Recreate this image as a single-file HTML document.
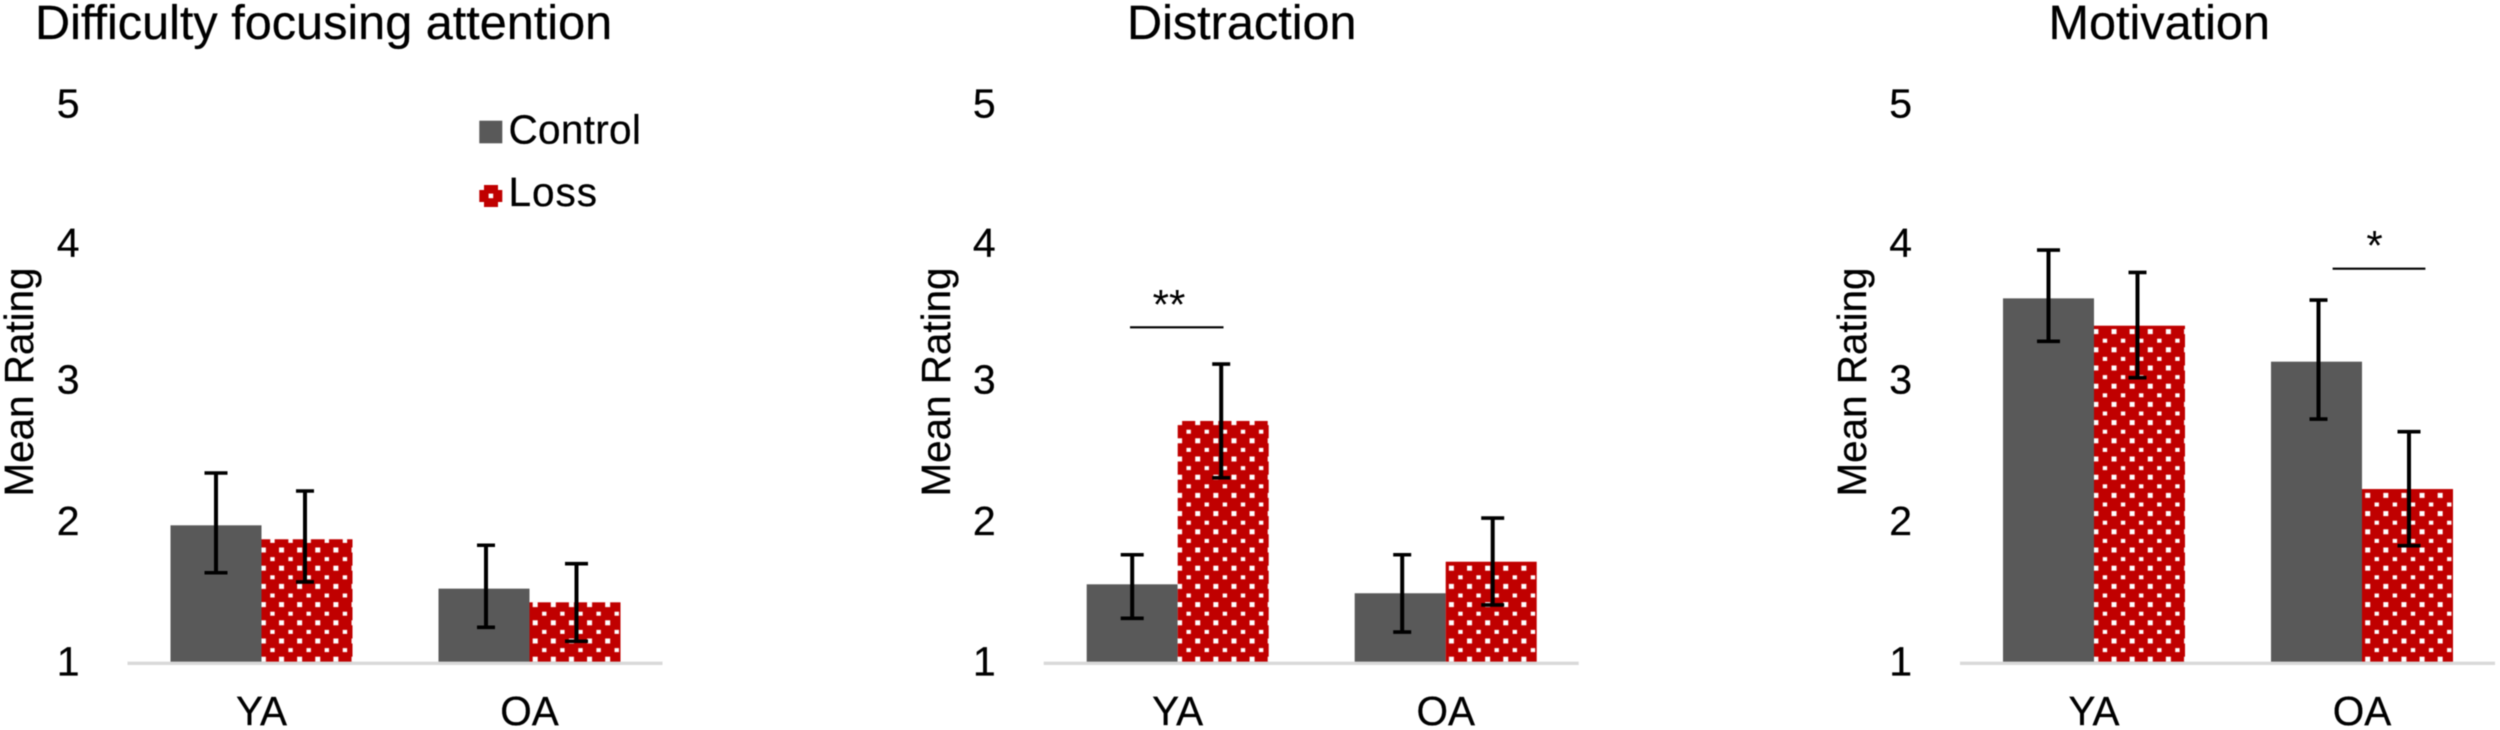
<!DOCTYPE html>
<html lang="en">
<head>
<meta charset="utf-8">
<title>Mean ratings by age group and condition</title>
<style>
  html, body { margin: 0; padding: 0; background: #fff; }
  svg { display: block; filter: blur(0.4px); }
  text { font-family: "Liberation Sans", Arial, sans-serif; fill: #000; stroke: #000; stroke-width: 0.25px; }
  .title { font-size: 48.6px; }
  .axis-title { font-size: 40.4px; text-anchor: middle; }
  .tick { font-size: 41px; text-anchor: end; }
  .cat { font-size: 40.5px; text-anchor: middle; }
  .legend-text { font-size: 40.5px; }
  .star { font-size: 42px; text-anchor: middle; stroke-width: 0; }
</style>
</head>
<body>
<svg id="figure" xmlns="http://www.w3.org/2000/svg" width="2500" height="730" viewBox="0 0 2500 730">
  <rect x="0" y="0" width="2500" height="730" fill="#ffffff"/>
  <defs id="defs"></defs>

  <g id="panel-attention">
    <text class="title" x="35" y="39">Difficulty focusing attention</text>
    <text class="axis-title" transform="translate(33 382) rotate(-90)">Mean Rating</text>
  </g>

  <g id="panel-distraction">
    <text class="title" x="1127" y="39">Distraction</text>
    <text class="axis-title" transform="translate(950 382) rotate(-90)">Mean Rating</text>
    <line x1="1130" y1="327.3" x2="1223.5" y2="327.3" stroke="#000" stroke-width="2.2"/>
    <text class="star" x="1169" y="319">**</text>
  </g>

  <g id="panel-motivation">
    <text class="title" x="2048.5" y="39">Motivation</text>
    <text class="axis-title" transform="translate(1866 382) rotate(-90)">Mean Rating</text>
    <line x1="2332.6" y1="268.7" x2="2425.4" y2="268.7" stroke="#000" stroke-width="2.2"/>
    <text class="star" x="2374.6" y="260">*</text>
  </g>

  <g>
    <g>
      <rect x="479.3" y="120.7" width="23" height="22.6" fill="#595959"/>
      <text class="legend-text" x="508.5" y="143.3" style="letter-spacing:0.3px">Control</text>
    </g>
    <g>
      <path fill="#c00000" d="M484 185H498V190H502.3V202H498V207H484V202H479.3V190H484Z"/>
      <rect x="488.6" y="193.6" width="4.6" height="4.6" fill="#ffffff"/>
      <text class="legend-text" x="508.5" y="206" style="letter-spacing:1px">Loss</text>
    </g>
  </g>
</svg>

<script>
// Shared axis values
const categories = ['YA', 'OA'];
const yTicks = [1, 2, 3, 4, 5];

// Difficulty focusing attention
const attentionControl = [1.987, 1.533];
const attentionLoss = [1.887, 1.435];
const attentionControlHigh = [2.362, 1.844];
const attentionControlLow = [1.647, 1.256];
const attentionLossHigh = [2.233, 1.712];
const attentionLossLow = [1.581, 1.156];

// Distraction
const distractionControl = [1.564, 1.50];
const distractionLoss = [2.735, 1.726];
const distractionControlHigh = [1.776, 1.776];
const distractionControlLow = [1.320, 1.222];
const distractionLossHigh = [3.143, 2.039];
const distractionLossLow = [2.328, 1.416];

// Motivation
const motivationControl = [3.614, 3.16];
const motivationLoss = [3.418, 2.247];
const motivationControlHigh = [3.96, 3.602];
const motivationControlLow = [3.306, 2.749];
const motivationLossHigh = [3.80, 2.658];
const motivationLossLow = [3.045, 1.841];

// Layout and styling (not data)
const AXIS_VALUE_MIN = 1;
const AXIS_BASE_Y = 663;
const PX_PER_UNIT = 139.5;
const BAR_W = 91;
const GROUP_STEP = 268;
const GROUP_PAD = 43;
const AXIS_LEN = 535;
const CONTROL_CAP = [23, 18];
const LOSS_CAP = [18, 23];
const CONTROL_NUDGE = [0, 2];
const LOSS_NUDGE = [-2, 1.5];
const TICK_LABEL_NUDGE = [0, -1, -3, 0, 0];
const SVG_NS = 'http://www.w3.org/2000/svg';

function yScale(v) {
  return AXIS_BASE_Y - (v - AXIS_VALUE_MIN) * PX_PER_UNIT;
}
function xBar(left, groupIndex, seriesIndex) {
  return left + GROUP_PAD + groupIndex * GROUP_STEP + seriesIndex * BAR_W;
}
function make(tag, attrs, parent) {
  const node = document.createElementNS(SVG_NS, tag);
  for (const k in attrs) node.setAttribute(k, attrs[k]);
  parent.appendChild(node);
  return node;
}

function drawErrorBar(parent, cx, high, low, capW) {
  const yHigh = yScale(high);
  const yLow = yScale(low);
  const group = make('g', { stroke: '#000', fill: 'none' }, parent);
  
  
  make('line', { x1: cx, x2: cx, y1: yHigh, y2: yLow, 'stroke-width': 4 }, group);
  make('line', { x1: cx - capW / 2, x2: cx + capW / 2, y1: yHigh, y2: yHigh, 'stroke-width': 3.6 }, group);
  make('line', { x1: cx - capW / 2, x2: cx + capW / 2, y1: yLow, y2: yLow, 'stroke-width': 3.6 }, group);
}

function drawPanel(p) {
  const root = document.getElementById(p.id);

  // Dotted fill for the Loss series
  const patternId = p.id + '-dots';
  const dotX = xBar(p.left, 0, 1) + 1.9;
  const dotY = 659.2;
  const pattern = make('pattern', {
    id: patternId, patternUnits: 'userSpaceOnUse',
    x: dotX - 4.53, y: dotY - 4.55, width: 18.12, height: 18.2
  }, document.getElementById('defs'));
  make('rect', { x: 0, y: 0, width: 18.12, height: 18.2, fill: '#c00000' }, pattern);
  make('rect', { x: 2.03, y: 2.05, width: 5, height: 5, fill: '#ffffff' }, pattern);
  make('rect', { x: 11.39, y: 11.65, width: 4.4, height: 4, fill: '#ffffff' }, pattern);

  // Y tick labels
  yTicks.forEach(function (tick, t) {
    const label = make('text', { class: 'tick', x: p.left - 48, y: yScale(tick) + 12.5 + TICK_LABEL_NUDGE[t] }, root);
    
    
    label.textContent = String(tick);
  });

  categories.forEach(function (cat, i) {
    const controlX = xBar(p.left, i, 0);
    const lossX = xBar(p.left, i, 1);

    const controlBar = make('rect', {
      x: controlX, y: yScale(p.control[i]), width: BAR_W,
      height: yScale(AXIS_VALUE_MIN) - yScale(p.control[i]), fill: '#595959'
    }, root);
    
    

    const lossBar = make('rect', {
      x: lossX, y: yScale(p.loss[i]), width: BAR_W,
      height: yScale(AXIS_VALUE_MIN) - yScale(p.loss[i]), fill: 'url(#' + patternId + ')'
    }, root);
    
    

    drawErrorBar(root, controlX + BAR_W / 2 + CONTROL_NUDGE[i], p.controlHigh[i], p.controlLow[i], CONTROL_CAP[i]);
    drawErrorBar(root, lossX + BAR_W / 2 + LOSS_NUDGE[i], p.lossHigh[i], p.lossLow[i], LOSS_CAP[i]);

    const catLabel = make('text', { class: 'cat', x: lossX, y: 725 }, root);
    
    
    catLabel.textContent = cat;
  });

  const axis = make('line', {
    x1: p.left, x2: p.left + AXIS_LEN, y1: 663.3, y2: 663.3,
    stroke: '#d9d9d9', 'stroke-width': 3.4
  }, root);
  
  
}

drawPanel({
  id: 'panel-attention', left: 127.5,
  control: attentionControl, loss: attentionLoss,
  controlHigh: attentionControlHigh, controlLow: attentionControlLow,
  lossHigh: attentionLossHigh, lossLow: attentionLossLow
});
drawPanel({
  id: 'panel-distraction', left: 1043.7,
  control: distractionControl, loss: distractionLoss,
  controlHigh: distractionControlHigh, controlLow: distractionControlLow,
  lossHigh: distractionLossHigh, lossLow: distractionLossLow
});
drawPanel({
  id: 'panel-motivation', left: 1960,
  control: motivationControl, loss: motivationLoss,
  controlHigh: motivationControlHigh, controlLow: motivationControlLow,
  lossHigh: motivationLossHigh, lossLow: motivationLossLow
});
</script>
</body>
</html>
